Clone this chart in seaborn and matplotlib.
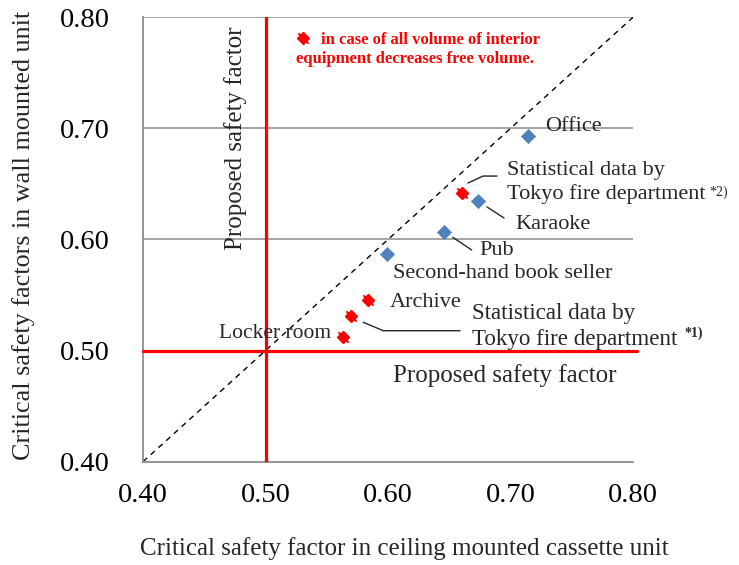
import numpy as np
import pandas as pd
import matplotlib
matplotlib.use("Agg")
import matplotlib.pyplot as plt
from matplotlib.path import Path
from matplotlib.ticker import MultipleLocator, FormatStrFormatter
import seaborn as sns

# ---------------- data ----------------
blue_names = ["Office", "Karaoke", "Pub", "Second-hand book seller"]
blue_x = [0.7145, 0.6737, 0.6457, 0.5994]
blue_y = [0.693, 0.6349, 0.6067, 0.587]

red_names = ["Statistical data by Tokyo fire department *2)", "Archive",
             "Statistical data by Tokyo fire department *1)", "Locker room"]
red_x = [0.6602, 0.5839, 0.5696, 0.5635]
red_y = [0.6423, 0.5457, 0.5315, 0.5126]

proposed_factor = 0.50
axis_min, axis_max = 0.40, 0.80
ticks = [0.40, 0.50, 0.60, 0.70, 0.80]

xlabel = "Critical safety factor in ceiling mounted cassette unit"
ylabel = "Critical safety factors in wall mounted unit"
legend_line1 = "in case of all volume of interior"
legend_line2 = "equipment decreases free volume."

df_blue = pd.DataFrame({"x": blue_x, "y": blue_y, "name": blue_names})
df_red = pd.DataFrame({"x": red_x, "y": red_y, "name": red_names})

# ---------------- style ----------------
sns.set_style("white")
plt.rcParams["font.family"] = ["Liberation Serif", "DejaVu Serif"]

GRAY = "#8c8c8c"
BLUE = "#4f81bd"
RED = "#ff0000"

fig = plt.figure(figsize=(7.39, 5.65), dpi=100)
ax = fig.add_axes([143 / 739, 1 - 461.7 / 565, (633 - 143) / 739, (461.7 - 17.3) / 565])

ax.set_xlim(axis_min, axis_max)
ax.set_ylim(axis_min, axis_max)

# gridlines (horizontal only)
for t in ticks[1:]:
    if t != proposed_factor:
        ax.axhline(t, color=GRAY, lw=1.1, zorder=1)

# diagonal
ax.plot([axis_min, axis_max], [axis_min, axis_max], color="black", lw=1.0,
        linestyle=(0, (4, 3.5)), zorder=2)

# proposed safety factor lines
ax.axvline(proposed_factor, color=RED, lw=2.3, zorder=3)
ax.plot([axis_min, axis_max + 0.0035], [proposed_factor, proposed_factor],
        color=RED, lw=2.3, zorder=3, clip_on=False)

# custom red marker: diamond with diagonal tails
verts = [(0, 0.5), (0.5, 0), (0, -0.5), (-0.5, 0), (0, 0.5),
         (-0.45, 0.45), (0.45, -0.45)]
codes = [Path.MOVETO, Path.LINETO, Path.LINETO, Path.LINETO, Path.CLOSEPOLY,
         Path.MOVETO, Path.LINETO]
red_marker = Path(verts, codes)

sns.scatterplot(data=df_blue, x="x", y="y", ax=ax, marker="D", s=52,
                color=BLUE, edgecolor=BLUE, linewidth=0.5, zorder=5, legend=False)
sns.scatterplot(data=df_red, x="x", y="y", ax=ax, marker=red_marker, s=68,
                color=RED, edgecolor=RED, linewidth=1.3, zorder=5, legend=False)

# legend-like marker + text
ax.scatter([0.5309], [0.7816], marker=red_marker, s=68, color=RED,
           edgecolor=RED, linewidth=1.3, zorder=5, clip_on=False)
ax.text(0.5451, 0.776, legend_line1, color=RED, fontsize=12, fontweight="bold",
        va="baseline", ha="left")
ax.text(0.5249, 0.7591, legend_line2, color=RED, fontsize=12, fontweight="bold",
        va="baseline", ha="left")

# annotations
fs = 16
ax.text(0.7282, 0.6979, "Office", fontsize=fs, va="baseline")
ax.text(0.6969, 0.6581, "Statistical data by", fontsize=fs, va="baseline")
ax.text(0.6969, 0.6362, "Tokyo fire department", fontsize=fs, va="baseline")
ax.text(0.8626, 0.6395, "*2)", fontsize=10, va="baseline")
ax.text(0.7037, 0.6092, "Karaoke", fontsize=fs, va="baseline")
ax.text(0.6745, 0.5861, "Pub", fontsize=fs, va="baseline")
ax.text(0.6038, 0.5653, "Second-hand book seller", fontsize=fs, va="baseline")
ax.text(0.6016, 0.539, "Archive", fontsize=fs, va="baseline")
ax.text(0.6683, 0.5282, "Statistical data by", fontsize=16.6, va="baseline")
ax.text(0.6683, 0.5050, "Tokyo fire department", fontsize=16.6, va="baseline")
ax.text(0.8419, 0.5125, "*1)", fontsize=10, fontweight="bold", va="baseline")
ax.text(0.4623, 0.5111, "Locker room", fontsize=15.5, va="baseline")
ax.text(0.6038, 0.472, "Proposed safety factor", fontsize=18, va="baseline")
ax.text(0.4755, 0.5906, "Proposed safety factor", fontsize=18, rotation=90,
        ha="center", va="bottom")

# leader lines
lc = "#262626"
ax.plot([0.6653, 0.6776, 0.689], [0.6508, 0.6571, 0.6571], color=lc, lw=1.0, zorder=4)
ax.plot([0.6808, 0.6947], [0.6293, 0.6194], color=lc, lw=1.0, zorder=4)
ax.plot([0.6528, 0.6683], [0.602, 0.5906], color=lc, lw=1.0, zorder=4)
ax.plot([0.5798, 0.5961, 0.6588], [0.5255, 0.5179, 0.5179], color=lc, lw=1.0, zorder=4)

# axes styling
for side in ["top", "right"]:
    ax.spines[side].set_visible(False)
for side in ["left", "bottom"]:
    ax.spines[side].set_color(GRAY)
    ax.spines[side].set_linewidth(1.3)

ax.set_xticks(ticks)
ax.set_yticks(ticks)
ax.xaxis.set_minor_locator(MultipleLocator(0.05))
ax.yaxis.set_minor_locator(MultipleLocator(0.05))
ax.xaxis.set_major_formatter(FormatStrFormatter("%.2f"))
ax.yaxis.set_major_formatter(FormatStrFormatter("%.2f"))
ax.tick_params(axis="both", which="both", direction="in", length=6, width=1.1,
               color=GRAY, labelsize=20.5, labelcolor="black")
ax.tick_params(axis="x", which="major", pad=15)
ax.tick_params(axis="y", which="major", pad=24)
ax.set_xlabel("")
ax.set_ylabel("")

fig.text(404 / 739, 1 - 549 / 565, xlabel, fontsize=18, ha="center", va="center")
fig.text(24 / 739, 1 - 235 / 565, ylabel, fontsize=18.8, ha="center", va="center",
         rotation=90)

fig.savefig("out.png", dpi=100)
